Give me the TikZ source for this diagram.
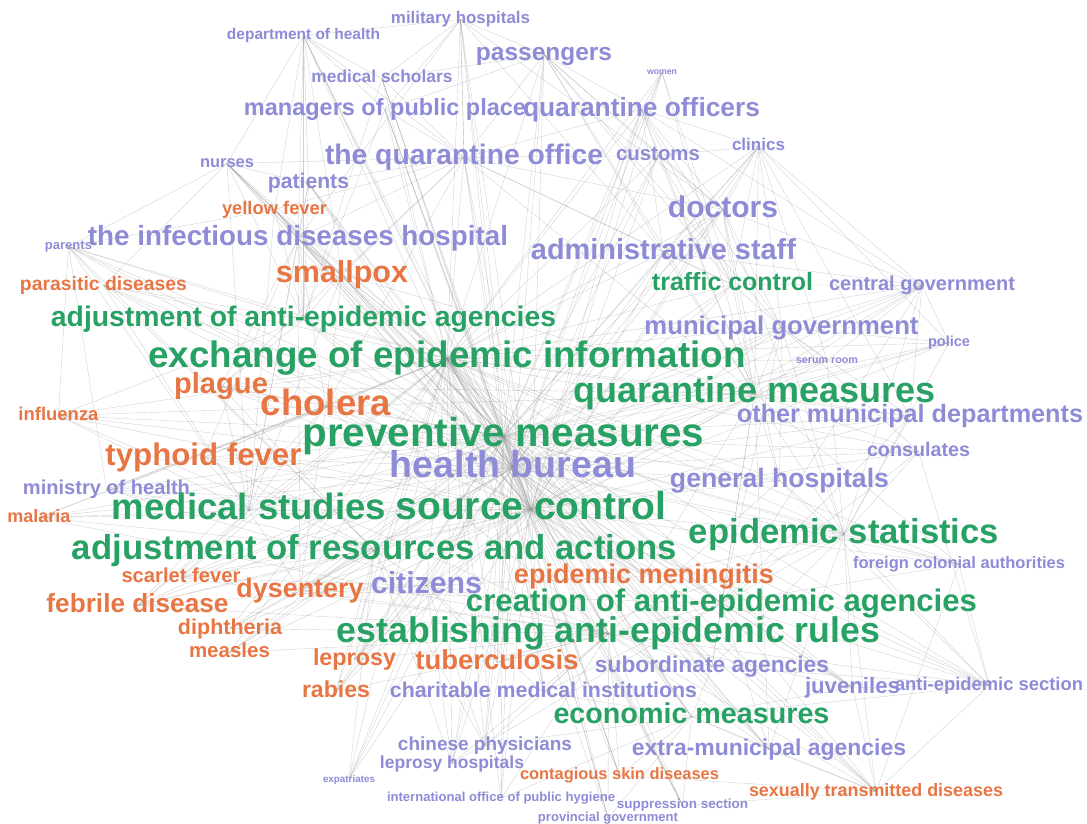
\documentclass[tikz,border=0pt]{standalone}
\usepackage{fontspec}
\setmainfont{Liberation Sans}
\usepackage{graphicx}
\usetikzlibrary{backgrounds}
\definecolor{purp}{RGB}{142,140,214}
\definecolor{grn}{RGB}{40,162,100}
\definecolor{org}{RGB}{232,118,68}
\definecolor{edgec}{RGB}{145,145,145}
\newcommand\wlabel[2]{\resizebox{#1pt}{!}{\vphantom{Agy}#2}}
\tikzset{
  lbl/.style={inner sep=0pt, outer sep=0pt, font=\bfseries, yshift=-2.5pt},
  pu/.style={lbl, text=purp},
  gr/.style={lbl, text=grn},
  og/.style={lbl, text=org},
  edge/.style={draw=edgec, line width=0.35pt, opacity=0.42}
}
\begin{document}
\begin{tikzpicture}[x=1pt,y=-1pt]
\useasboundingbox (0,0) rectangle (1087,823);
% purple: actors
\node[pu] (mh) at (460.5,17) {\wlabel{139}{military hospitals}};
\node[pu] (doh) at (303.5,33) {\wlabel{153}{department of health}};
\node[pu] (pas) at (544,52) {\wlabel{136}{passengers}};
\node[pu] (wom) at (662,70) {\wlabel{30}{women}};
\node[pu] (msch) at (382,76) {\wlabel{141}{medical scholars}};
\node[pu] (mpp) at (385,107) {\wlabel{282}{managers of public place}};
\node[pu] (qof) at (641.5,107) {\wlabel{237}{quarantine officers}};
\node[pu] (tqo) at (464,155) {\wlabel{278}{the quarantine office}};
\node[pu] (cus) at (658,153) {\wlabel{84}{customs}};
\node[pu] (cli) at (758.5,144) {\wlabel{53}{clinics}};
\node[pu] (nur) at (227,161) {\wlabel{54}{nurses}};
\node[pu] (pat) at (308.5,181) {\wlabel{81}{patients}};
\node[pu] (doc) at (723,207) {\wlabel{110}{doctors}};
\node[pu] (idh) at (298,236) {\wlabel{420}{the infectious diseases hospital}};
\node[pu] (par) at (68.5,244) {\wlabel{47}{parents}};
\node[pu] (adm) at (663.5,250) {\wlabel{265}{administrative staff}};
\node[pu] (cg) at (922,283) {\wlabel{186}{central government}};
\node[pu] (mg) at (781.5,325) {\wlabel{274}{municipal government}};
\node[pu] (pol) at (949,340) {\wlabel{42}{police}};
\node[pu] (ser) at (827,358) {\wlabel{62}{serum room}};
\node[pu] (omd) at (910,414) {\wlabel{346}{other municipal departments}};
\node[pu] (con) at (918.5,449) {\wlabel{103}{consulates}};
\node[pu] (hb) at (513,465) {\wlabel{246}{health bureau}};
\node[pu] (gh) at (779.5,478) {\wlabel{219}{general hospitals}};
\node[pu] (moh) at (106.5,487) {\wlabel{167}{ministry of health}};
\node[pu] (cit) at (426.5,583) {\wlabel{111}{citizens}};
\node[pu] (fca) at (959,562) {\wlabel{212}{foreign colonial authorities}};
\node[pu] (sub) at (712,664) {\wlabel{234}{subordinate agencies}};
\node[pu] (juv) at (852.5,685) {\wlabel{95}{juveniles}};
\node[pu] (aes) at (989,683) {\wlabel{188}{anti-epidemic section}};
\node[pu] (cmi) at (543.5,690) {\wlabel{307}{charitable medical institutions}};
\node[pu] (cp) at (485,743) {\wlabel{174}{chinese physicians}};
\node[pu] (ema) at (769,747) {\wlabel{274}{extra-municipal agencies}};
\node[pu] (lh) at (452,761) {\wlabel{144}{leprosy hospitals}};
\node[pu] (exp) at (349,777) {\wlabel{52}{expatriates}};
\node[pu] (iop) at (501,796) {\wlabel{228}{international office of public hygiene}};
\node[pu] (sup) at (682.5,803) {\wlabel{131}{suppression section}};
\node[pu] (pg) at (608,816) {\wlabel{140}{provincial government}};
% orange: diseases
\node[og] (yf) at (274.5,207) {\wlabel{105}{yellow fever}};
\node[og] (smp) at (342,272) {\wlabel{132}{smallpox}};
\node[og] (pd) at (103.5,283) {\wlabel{167}{parasitic diseases}};
\node[og] (plg) at (221,384) {\wlabel{94}{plague}};
\node[og] (cho) at (326,404) {\wlabel{130}{cholera}};
\node[og] (inf) at (58.5,413) {\wlabel{80}{influenza}};
\node[og] (typ) at (203.5,455) {\wlabel{196}{typhoid fever}};
\node[og] (mal) at (39,515) {\wlabel{63}{malaria}};
\node[og] (sf) at (181,575) {\wlabel{119}{scarlet fever}};
\node[og] (dys) at (300,588) {\wlabel{127}{dysentery}};
\node[og] (mng) at (644,574) {\wlabel{260}{epidemic meningitis}};
\node[og] (feb) at (137.5,603) {\wlabel{182}{febrile disease}};
\node[og] (dip) at (230,626) {\wlabel{104}{diphtheria}};
\node[og] (mea) at (229.5,650) {\wlabel{81}{measles}};
\node[og] (lep) at (354.5,657) {\wlabel{83}{leprosy}};
\node[og] (tub) at (497,660) {\wlabel{163}{tuberculosis}};
\node[og] (rab) at (336,689) {\wlabel{68}{rabies}};
\node[og] (csd) at (619.5,773) {\wlabel{199}{contagious skin diseases}};
\node[og] (std) at (876,789) {\wlabel{254}{sexually transmitted diseases}};
% green: measures
\node[gr] (tc) at (732.5,282) {\wlabel{161}{traffic control}};
\node[gr] (aaa) at (303.5,317) {\wlabel{505}{adjustment of anti-epidemic agencies}};
\node[gr] (eei) at (447,356) {\wlabel{597}{exchange of epidemic information}};
\node[gr] (qm) at (754.5,391) {\wlabel{362}{quarantine measures}};
\node[gr] (pm) at (503.5,434) {\wlabel{402}{preventive measures}};
\node[gr] (ms) at (249,508) {\wlabel{274}{medical studies}};
\node[gr] (sc) at (531,507) {\wlabel{271}{source control}};
\node[gr] (es) at (844,532) {\wlabel{310}{epidemic statistics}};
\node[gr] (ara) at (374.5,548) {\wlabel{605}{adjustment of resources and actions}};
\node[gr] (caa) at (721.5,601) {\wlabel{511}{creation of anti-epidemic agencies}};
\node[gr] (ear) at (608.5,631) {\wlabel{543}{establishing anti-epidemic rules}};
\node[gr] (em) at (691.5,714) {\wlabel{276}{economic measures}};

\begin{scope}[on background layer]
\fill[white] (0,0) rectangle (1087,823);
\foreach \a in {hb,pm,sc,eei} {
  \foreach \b in {mh,doh,pas,wom,msch,mpp,qof,tqo,cus,cli,nur,pat,doc,idh,par,adm,cg,mg,pol,ser,omd,con,hb,gh,moh,cit,fca,sub,juv,aes,cmi,cp,ema,lh,exp,iop,sup,pg,yf,smp,pd,plg,cho,inf,typ,mal,sf,dys,mng,feb,dip,mea,lep,tub,rab,csd,std,tc,aaa,eei,qm,pm,ms,sc,es,ara,caa,ear,em} {
    \draw[edge] (\a.center) -- (\b.center);
  }
}
\foreach \a/\lst in {
  qm/{pas,qof,tqo,cus,doc,adm,cg,mg,pol,omd,con,gh,fca,cho,plg,smp,mng,cit,ema,sub,wom,cli,tc,es,caa},
  ear/{cmi,cp,lh,iop,sup,pg,csd,std,tub,lep,rab,dys,feb,mea,dip,sf,cit,juv,aes,ema,sub,gh,moh,mal,typ,cho},
  caa/{sub,juv,aes,fca,es,std,ema,idh,lh,mg,cg,omd,con,cmi,dys,tub},
  ara/{moh,mal,inf,typ,feb,sf,dip,mea,dys,cit,lep,rab,exp,cp,lh,pd,par,plg},
  es/{omd,con,gh,fca,aes,juv,std,ema,mg,cg,pol,ser,doc,mng,tub,sub},
  ms/{typ,plg,cho,inf,moh,mal,feb,sf,dys,idh,pat,nur,yf,pd,par,smp},
  aaa/{pd,par,nur,yf,idh,pat,doh,msch,mpp,smp,plg,inf},
  em/{ema,sub,juv,cmi,cp,csd,std,pg,sup,iop,aes},
  tc/{pas,qof,cus,cli,doc,adm,mg,cg,wom},
  tqo/{doh,mh,pas,msch,mpp,qof,nur,pat,cus,yf,smp,cho,plg,idh,adm,doc,tc},
  mh/{doh,msch,mpp,pas,tqo,idh,adm,doc},
  doh/{msch,mpp,nur,pat,idh,smp,yf},
  pas/{qof,cus,doc,adm,msch,mpp,mg},
  qof/{cus,cli,doc,adm,mg,wom,cg},
  cli/{doc,adm,mg,cg,omd,pol,ser,cus},
  nur/{pat,yf,idh,par,pd,smp},
  par/{pd,inf,moh,yf},
  cit/{dys,feb,sf,tub,lep,rab,mng,cmi,cp,lh,exp},
  std/{aes,juv,ema,sup,csd,fca},
  aes/{juv,sub,fca,con,gh},
  cg/{mg,pol,ser,omd,doc,adm},
  doc/{adm,mg,gh,cus},
  mg/{omd,pol,ser,con,gh},
  cho/{plg,typ,smp,dys,feb,inf,mal,moh},
  idh/{pat,smp,cho,plg,typ,yf,dys}} {
  \foreach \b in \lst {
    \draw[edge] (\a.center) -- (\b.center);
  }
}
\end{scope}
\end{tikzpicture}
\end{document}
